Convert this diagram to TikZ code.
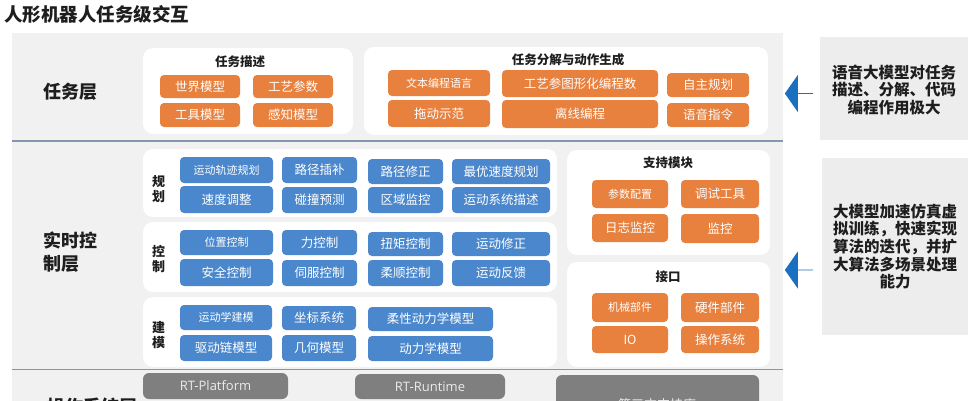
\documentclass[tikz,border=0pt]{standalone}
\usepackage{fontspec}
\setmainfont{Noto Sans CJK SC}
\newfontfamily\latinf{Open Sans}
\usetikzlibrary{shapes.arrows}
\definecolor{panelgray}{HTML}{F1F1F1}
\definecolor{notegray}{HTML}{EDEDED}
\definecolor{boxorange}{HTML}{E8803E}
\definecolor{boxblue}{HTML}{4A87CC}
\definecolor{boxgray}{HTML}{7F7F7F}
\definecolor{arrowblue}{HTML}{1A6FBF}
\definecolor{divcol}{HTML}{8496B0}
\definecolor{txtdark}{HTML}{1E1E1E}
\newcommand\mkbox[7]{\node[#1,minimum width={(#5-#3)*1pt},minimum height={(#6-#4)*1pt}] (#2) at ({(#3+#5)/2},{(#4+#6)/2}) {#7};}
\tikzset{
  wbox/.style={fill=white,rounded corners=10pt,inner sep=0pt},
  cbox/.style={rounded corners=4pt,text=white,inner sep=0pt,font=\fontsize{12.5}{14}\selectfont},
  obox/.style={cbox,fill=boxorange},
  bbox/.style={cbox,fill=boxblue},
  gbox/.style={cbox,fill=boxgray,rounded corners=6pt,text=white!92!black,font=\latinf\fontsize{13}{15}\selectfont},
  smalltxt/.style={font=\fontsize{11}{13}\selectfont},
  ttl/.style={font=\bfseries\fontsize{12.5}{14}\selectfont,text=txtdark,inner sep=0pt},
  layer/.style={font=\bfseries\fontsize{18}{23}\selectfont,text=txtdark,align=left,inner sep=0pt},
  vlab/.style={font=\bfseries\fontsize{13}{15}\selectfont,text=txtdark,align=center,inner sep=0pt},
  note/.style={font=\bfseries\fontsize{15.5}{17.6}\selectfont,text=txtdark,align=center,inner sep=0pt},
  notebox/.style={fill=notegray,inner sep=0pt},
  larrow/.style={single arrow,shape border rotate=180,fill=arrowblue,inner sep=0pt,
    minimum height=28pt,minimum width=37pt,single arrow head extend=9pt,single arrow tip angle=110},
  divider/.style={draw=divcol,line width=1.6pt}
}
\begin{document}
\begin{tikzpicture}[x=1pt,y=-1pt]
\useasboundingbox (0,0) rectangle (970,400);
\clip (0,0) rectangle (970,400);
\fill[white] (0,0) rectangle (970,400);
% title
\node[font=\bfseries\fontsize{18.5}{22}\selectfont,text=txtdark,anchor=west,inner sep=0pt] (title) at (4,14) {人形机器人任务级交互};
% main panel
\fill[panelgray] (12,33) rectangle (783,420);
\draw[divider] (12,141) -- (783,141);
\draw[divider] (12,369.5) -- (783,369.5);
% layer labels
\node[layer,anchor=west] (l1) at (43,92) {任务层};
\node[layer,anchor=west] (l2) at (43,252.5) {实时控\\制层};
\node[layer,anchor=west] (l3) at (47,407) {操作系统层};
% task description
\mkbox{wbox}{td}{143}{48}{353}{134}{}
\node[ttl] (tdt) at (240,62) {任务描述};
\mkbox{obox}{t1}{160}{75}{240}{98}{世界模型}
\mkbox{obox}{t2}{253}{75}{333}{98}{工艺参数}
\mkbox{obox}{t3}{160}{103}{240}{127}{工具模型}
\mkbox{obox}{t4}{253}{103}{333}{127}{感知模型}
% task decomposition
\mkbox{wbox}{tg}{364}{47}{768}{135}{}
\node[ttl] (tgt) at (568,60) {任务分解与动作生成};
\mkbox{obox,smalltxt}{g1}{388}{70}{490}{96}{文本编程语言}
\mkbox{obox}{g2}{502}{70}{658}{97}{工艺参图形化编程数}
\mkbox{obox}{g3}{667}{73}{749}{97}{自主规划}
\mkbox{obox}{g4}{388}{100}{490}{127}{拖动示范}
\mkbox{obox}{g5}{502}{100}{658}{128}{离线编程}
\mkbox{obox}{g6}{667}{103}{749}{127}{语音指令}
% planning
\mkbox{wbox}{pl}{143}{149}{557}{217}{}
\node[vlab] (plt) at (158.5,189) {规\\划};
\mkbox{bbox,smalltxt}{p1}{180}{157}{273}{183}{运动轨迹规划}
\mkbox{bbox}{p2}{282}{157}{357}{183}{路径插补}
\mkbox{bbox}{p3}{368}{159}{443}{184}{路径修正}
\mkbox{bbox}{p4}{452}{159}{550}{184}{最优速度规划}
\mkbox{bbox}{p5}{180}{186}{273}{213}{速度调整}
\mkbox{bbox}{p6}{282}{187}{357}{213}{碰撞预测}
\mkbox{bbox}{p7}{368}{187}{443}{213}{区域监控}
\mkbox{bbox}{p8}{452}{187}{550}{213}{运动系统描述}
% control
\mkbox{wbox}{ct}{143}{222}{557}{292}{}
\node[vlab] (ctt) at (158.5,259) {控\\制};
\mkbox{bbox,smalltxt}{c1}{180}{230}{273}{255}{位置控制}
\mkbox{bbox}{c2}{282}{230}{357}{255}{力控制}
\mkbox{bbox}{c3}{368}{232}{443}{256}{扭矩控制}
\mkbox{bbox}{c4}{452}{232}{550}{256}{运动修正}
\mkbox{bbox}{c5}{180}{259}{273}{286}{安全控制}
\mkbox{bbox}{c6}{282}{260}{357}{286}{伺服控制}
\mkbox{bbox}{c7}{368}{260}{443}{286}{柔顺控制}
\mkbox{bbox}{c8}{452}{260}{550}{286}{运动反馈}
% modelling
\mkbox{wbox}{md}{143}{297}{557}{367}{}
\node[vlab] (mdt) at (158.5,335) {建\\模};
\mkbox{bbox,smalltxt}{m1}{180}{305}{272}{330}{运动学建模}
\mkbox{bbox}{m2}{282}{306}{356}{330}{坐标系统}
\mkbox{bbox}{m3}{368}{307}{493}{331}{柔性动力学模型}
\mkbox{bbox}{m4}{180}{335}{272}{361}{驱动链模型}
\mkbox{bbox}{m5}{282}{335}{356}{361}{几何模型}
\mkbox{bbox}{m6}{368}{336}{493}{361}{动力学模型}
% support modules
\mkbox{wbox}{sp}{567}{150}{770}{255}{}
\node[ttl] (spt) at (668,163) {支持模块};
\mkbox{obox,smalltxt}{s1}{592}{180}{668}{208}{参数配置}
\mkbox{obox}{s2}{681}{180}{759}{208}{调试工具}
\mkbox{obox}{s3}{592}{214}{668}{242}{日志监控}
\mkbox{obox}{s4}{681}{214}{759}{243}{监控}
% interfaces
\mkbox{wbox}{it}{567}{262}{770}{367}{}
\node[ttl] (itt) at (668,277) {接口};
\mkbox{obox,smalltxt}{i1}{592}{293}{668}{322}{机械部件}
\mkbox{obox}{i2}{681}{293}{759}{322}{硬件部件}
\mkbox{obox}{i3}{592}{326}{668}{353}{IO}
\mkbox{obox}{i4}{681}{326}{759}{353}{操作系统}
% bottom layer
\mkbox{gbox}{b1}{143}{373}{288}{399}{RT-Platform}
\mkbox{gbox}{b2}{355}{374}{505}{399}{RT-Runtime}
\mkbox{gbox}{b3box}{556}{375}{759}{432}{}
\node[font=\fontsize{13}{15}\selectfont,text=white!92!black,inner sep=0pt] (b3) at (657,405) {第三方支持库};
% notes
\mkbox{notebox}{n1}{820}{37}{968}{140}{}
\node[note] (n1t) at (894,90) {语音大模型对任务\\描述、分解、代码\\编程作用极大};
\mkbox{notebox}{n2}{822}{158}{968}{335}{}
\node[note] (n2t) at (895,246.5) {大模型加速仿真虚\\拟训练，快速实现\\算法的迭代，并扩\\大算法多场景处理\\能力};
\node[larrow] (a1) at (799,93.5) {};
\node[larrow] (a2) at (799,270) {};
\end{tikzpicture}
\end{document}
